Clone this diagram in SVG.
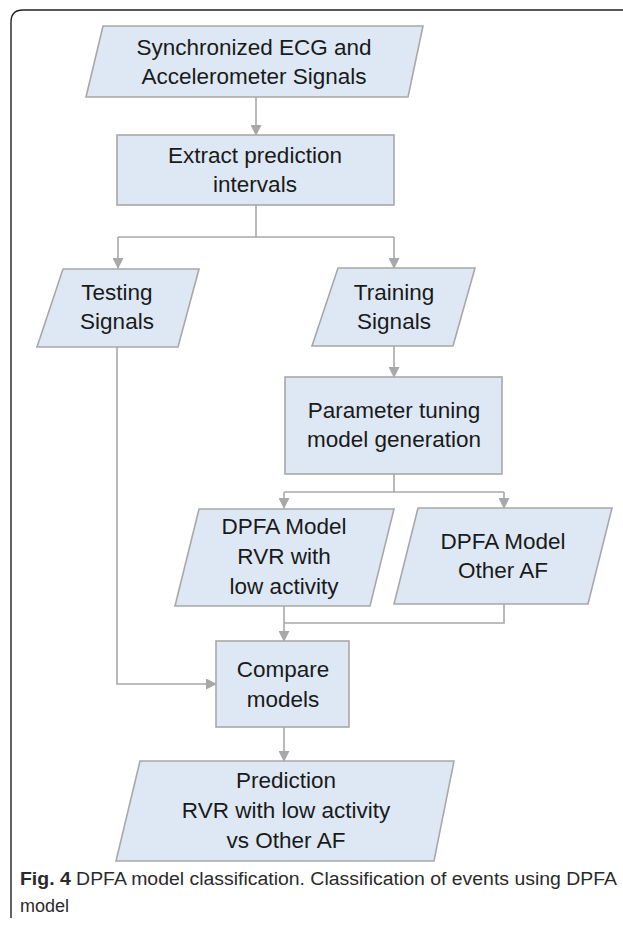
<svg xmlns="http://www.w3.org/2000/svg" width="623" height="925" viewBox="0 0 623 925">
<style>
.n{fill:#dde8f4;stroke:#a8a8a8;stroke-width:1.6}
.t{font-family:"Liberation Sans",Arial,sans-serif;font-size:22.5px;fill:#1a1a1a;text-anchor:middle}
.c{fill:none;stroke:#a8a8a8;stroke-width:1.6}
.cap{font-family:"Liberation Sans",Arial,sans-serif;font-size:18px;fill:#2a2a2a}
</style>
<defs>
<marker id="a" markerWidth="11" markerHeight="11" refX="10" refY="5.5" orient="auto" markerUnits="userSpaceOnUse">
<path d="M0,0 L11,5.5 L0,11 z" fill="#a8a8a8"/>
</marker>
</defs>
<rect width="623" height="925" fill="#fff"/>
<path d="M11 918 V22 Q11 10 23 10 H623" fill="none" stroke="#222" stroke-width="1.4"/>
<g id="connectors">
<path class="c" d="M256 97 V135" marker-end="url(#a)"/>
<path class="c" d="M256 205 V237"/>
<path class="c" d="M118 237 H394"/>
<path class="c" d="M118 237 V268" marker-end="url(#a)"/>
<path class="c" d="M394 237 V268" marker-end="url(#a)"/>
<path class="c" d="M394 346 V377" marker-end="url(#a)"/>
<path class="c" d="M394 474 V492"/>
<path class="c" d="M284 492 H504"/>
<path class="c" d="M284 492 V508" marker-end="url(#a)"/>
<path class="c" d="M504 492 V508" marker-end="url(#a)"/>
<path class="c" d="M284 606 V641" marker-end="url(#a)"/>
<path class="c" d="M504 604 V623 H284"/>
<path class="c" d="M117 347 V684 H216" marker-end="url(#a)"/>
<path class="c" d="M284 727 V761" marker-end="url(#a)"/>
</g>
<g id="sync">
<polygon class="n" points="103,26 423,26 408,97 86,97"/>
<text class="t" x="254" y="55">Synchronized ECG and</text>
<text class="t" x="254" y="84">Accelerometer Signals</text>
</g>
<g id="extract">
<rect class="n" x="117" y="135" width="277" height="70"/>
<text class="t" x="255" y="163">Extract prediction</text>
<text class="t" x="255" y="192">intervals</text>
</g>
<g id="testing">
<polygon class="n" points="63,269 199,269 178,347 37,347"/>
<text class="t" x="117" y="300">Testing</text>
<text class="t" x="117" y="329">Signals</text>
</g>
<g id="training">
<polygon class="n" points="338,268 475,268 453,346 312,346"/>
<text class="t" x="394" y="300">Training</text>
<text class="t" x="394" y="329">Signals</text>
</g>
<g id="param">
<rect class="n" x="285" y="377" width="217" height="97"/>
<text class="t" x="394" y="418">Parameter tuning</text>
<text class="t" x="394" y="447">model generation</text>
</g>
<g id="rvr">
<polygon class="n" points="199,509 394,509 370,606 175,606"/>
<text class="t" x="284" y="534">DPFA Model</text>
<text class="t" x="284" y="564">RVR with</text>
<text class="t" x="284" y="594">low activity</text>
</g>
<g id="otheraf">
<polygon class="n" points="418,508 612,508 588,604 394,604"/>
<text class="t" x="503" y="549">DPFA Model</text>
<text class="t" x="503" y="578">Other AF</text>
</g>
<g id="compare">
<rect class="n" x="216" y="641" width="133" height="86"/>
<text class="t" x="283" y="677">Compare</text>
<text class="t" x="283" y="707">models</text>
</g>
<g id="prediction">
<polygon class="n" points="140,761 454,761 434,861 116,861"/>
<text class="t" x="286" y="788">Prediction</text>
<text class="t" x="286" y="818">RVR with low activity</text>
<text class="t" x="286" y="848">vs Other AF</text>
</g>
<g id="caption">
<text class="cap" x="20" y="885" textLength="597" lengthAdjust="spacingAndGlyphs"><tspan font-weight="bold">Fig. 4</tspan>  DPFA model classification. Classification of events using DPFA</text>
<text class="cap" x="20" y="912">model</text>
</g>
</svg>
